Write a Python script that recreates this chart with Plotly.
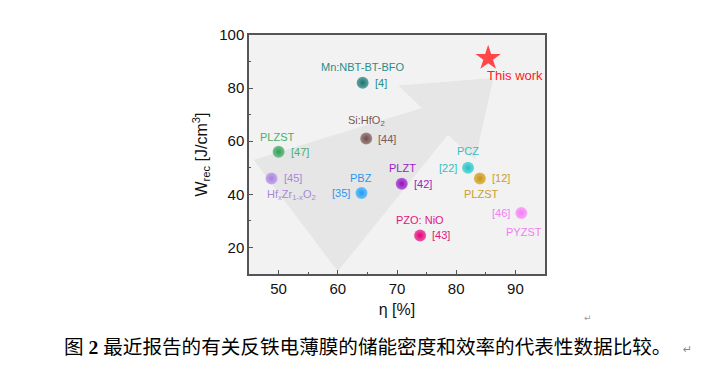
import plotly.graph_objects as go

# ---- data ----
names = ["Mn:NBT-BT-BFO", "Si:HfO<sub>2</sub>", "PLZST", "Hf<sub>x</sub>Zr<sub>1-x</sub>O<sub>2</sub>",
         "PBZ", "PLZT", "PCZ", "PLZST", "PZO: NiO", "PYZST"]
refs = ["[4]", "[44]", "[47]", "[45]", "[35]", "[42]", "[22]", "[12]", "[43]", "[46]"]
eta = [64.2, 64.8, 50.0, 48.8, 64.0, 70.8, 82.0, 84.0, 73.9, 91.0]
wrec = [82.0, 61.0, 56.0, 46.0, 40.5, 44.0, 50.0, 46.0, 24.5, 33.0]
this_work_eta = [85.4]
this_work_wrec = [91.3]
x_ticks = [50, 60, 70, 80, 90]
y_ticks = [20, 40, 60, 80, 100]
# background arrow outline (data units)
arrow_x = [45.8, 74.2, 70.2, 86.3, 83.2, 78.6, 60.0]
arrow_y = [53.0, 72.5, 81.0, 83.8, 53.0, 62.4, 11.0]
caption = "图 <b>2</b> 最近报告的有关反铁电薄膜的储能密度和效率的代表性数据比较。"

# ---- styles ----
marker_colors = ["#16746e", "#6e4a48", "#2f9e55", "#a77fdd", "#1f9cf2", "#9010c0",
                 "#20c2c6", "#c9950e", "#e20076", "#f47cf4"]
text_colors = ["#2a8c88", "#7a5a58", "#4aae6c", "#a888da", "#2a98ee", "#9a22c4",
               "#38bcc2", "#c8a030", "#e0187c", "#f080f0"]
# label placement: (name dx, name dy)
placement = [(0, 16), (0, 18), (-1, 15), (20, -17), (0, 15), (1, 16), (0, 17), (2, -16),
             (0, 15), (3, -19)]
ref_side = ["right", "right", "right", "right", "left", "right", "left", "right", "right", "left"]


def lighten(hexc, f):
    h = hexc.lstrip("#")
    r, g, b = (int(h[i:i + 2], 16) for i in (0, 2, 4))
    r, g, b = (int(c + (255 - c) * f) for c in (r, g, b))
    return "#%02x%02x%02x" % (r, g, b)


fig = go.Figure()

path = "M " + " L ".join(f"{x},{y}" for x, y in zip(arrow_x, arrow_y)) + " Z"
fig.add_shape(type="path", path=path, xref="x", yref="y", fillcolor="#e6e6e6",
              line=dict(width=0), layer="below")

for i in range(len(eta)):
    fig.add_trace(go.Scatter(
        x=[eta[i]], y=[wrec[i]], mode="markers",
        marker=dict(size=12, color=lighten(marker_colors[i], 0.35),
                    gradient=dict(type="radial", color=marker_colors[i]),
                    line=dict(width=0)),
        showlegend=False, hoverinfo="skip"))

fig.add_trace(go.Scatter(
    x=this_work_eta, y=this_work_wrec, mode="markers",
    marker=dict(symbol="star", size=19, color="#ff4747", line=dict(width=0)),
    showlegend=False, hoverinfo="skip"))

lab_font = "Arial, Liberation Sans, sans-serif"
for i in range(len(eta)):
    dx, dy = placement[i]
    fig.add_annotation(x=eta[i], y=wrec[i], xref="x", yref="y", text=names[i],
                       showarrow=False, xshift=dx, yshift=dy, xanchor="center",
                       yanchor="middle",
                       font=dict(size=11, color=text_colors[i], family=lab_font))
    if ref_side[i] == "right":
        fig.add_annotation(x=eta[i], y=wrec[i], xref="x", yref="y", text=refs[i],
                           showarrow=False, xshift=10, xanchor="left", yanchor="middle",
                           font=dict(size=11, color=text_colors[i], family=lab_font))
    else:
        fig.add_annotation(x=eta[i], y=wrec[i], xref="x", yref="y", text=refs[i],
                           showarrow=False, xshift=-9, xanchor="right", yanchor="middle",
                           font=dict(size=11, color=text_colors[i], family=lab_font))

fig.add_annotation(x=this_work_eta[0], y=this_work_wrec[0], xref="x", yref="y",
                   text="This work", showarrow=False, xshift=-3, yshift=-17,
                   xanchor="left", yanchor="middle",
                   font=dict(size=13, color="#ff2020", family=lab_font))

# page has an 8px body margin, so the figure is drawn 8px right and down
OFF = 8
W, H = 722 - OFF, 372 - OFF
L, T = 249 - OFF, 35 - OFF
R = W - (545 - OFF)
B = H - (274 - OFF)
pw, ph = W - L - R, H - T - B


def px(xp):
    return (xp - OFF - L) / pw


def py(yp):
    return (H - B - (yp - OFF)) / ph


fig.add_annotation(x=px(62), y=py(347), xref="paper", yref="paper", text=caption,
                   showarrow=False, xanchor="left", yanchor="middle",
                   font=dict(size=19.6, color="#000000",
                             family="'Liberation Serif', 'Noto Sans CJK SC', serif"))
fig.add_annotation(x=px(681), y=py(349), xref="paper", yref="paper", text="↵",
                   showarrow=False, xanchor="left", yanchor="middle",
                   font=dict(size=11, color="#888888", family="DejaVu Sans"))
fig.add_annotation(x=px(582), y=py(318), xref="paper", yref="paper", text="↵",
                   showarrow=False, xanchor="left", yanchor="middle",
                   font=dict(size=9, color="#999999", family="DejaVu Sans"))

axis_common = dict(showline=True, linecolor="#555555", linewidth=1.5, mirror=True,
                   ticks="inside", ticklen=4, tickwidth=1, tickcolor="#555555",
                   showgrid=False, zeroline=False,
                   tickfont=dict(size=15, color="#111111", family=lab_font))

fig.update_xaxes(range=[45, 95], tickvals=x_ticks, ticktext=[str(v) for v in x_ticks],
                 minor=dict(ticks="inside", dtick=5, tick0=45, ticklen=2, tickcolor="#555555"),
                 title=dict(text="η [%]", font=dict(size=16, color="#111111", family=lab_font),
                            standoff=8),
                 **axis_common)
fig.update_yaxes(range=[10, 100], tickvals=y_ticks, ticktext=[str(v) for v in y_ticks],
                 minor=dict(ticks="inside", dtick=10, tick0=10, ticklen=2, tickcolor="#555555"),
                 title=dict(text="W<sub>rec</sub> [J/cm<sup>3</sup>]",
                            font=dict(size=16, color="#111111", family=lab_font), standoff=8),
                 **axis_common)

fig.update_layout(width=W, height=H, margin=dict(l=L, r=R, t=T, b=B, autoexpand=False),
                  plot_bgcolor="#f2f2f2", paper_bgcolor="#ffffff")

fig.write_html("out.html")
